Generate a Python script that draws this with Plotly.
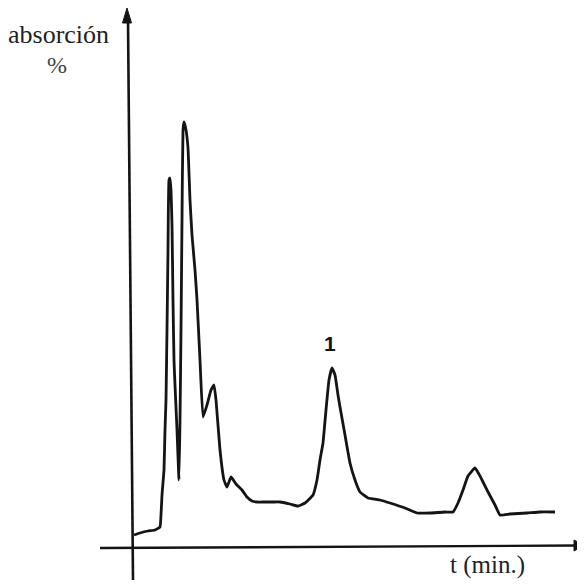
import plotly.graph_objects as go

# Chromatogram trace (arbitrary units): time t and absorbance
t = [0.4, 1.0, 1.8, 2.5, 3.0, 3.1, 3.2, 3.4, 3.5, 3.6, 3.7, 3.8, 3.9, 4.0, 4.1, 4.2,
     4.3, 4.4, 4.5, 4.7, 4.9, 5.0, 5.1, 5.2, 5.3, 5.4, 5.6, 5.8, 6.0, 6.2, 6.5, 6.7,
     7.0, 7.3, 7.7, 8.1, 8.4, 8.6, 9.0, 9.4, 9.7, 10.1, 10.6, 11.2, 11.7, 12.2, 12.7,
     13.5, 14.3, 15.0, 16.0, 16.8, 17.5, 18.3, 18.7, 19.0, 19.3, 19.6, 19.9, 20.2,
     20.5, 20.8, 21.0, 21.5, 22.0, 22.5, 23.0, 23.8, 25.0, 26.0, 27.5, 28.7, 30.0,
     31.5, 32.3, 32.8, 33.3, 33.8, 34.5, 35.0, 35.7, 36.5, 37.0, 38.0, 39.7, 41.0, 42.5]
absorcion = [12, 14, 16, 17, 20, 32, 52, 77, 117, 147, 217, 297, 367, 369, 357, 322,
             247, 187, 162, 117, 67, 127, 217, 327, 417, 425, 417, 399, 347, 312, 277, 247,
             187, 130, 142, 157, 162, 147, 97, 67, 60, 70, 63, 57, 50, 46, 45,
             45, 45, 45, 43, 41, 44, 52, 67, 87, 104, 137, 167, 179,
             172, 152, 140, 112, 84, 67, 55, 49, 47, 44, 39, 34, 34,
             35, 35, 44, 57, 71, 79, 71, 57, 42, 32, 33, 34, 35, 35]

peak_label = "1"
peak_t, peak_a = 20.0, 204

x_label = "t (min.)"
y_label_1 = "absorción"
y_label_2 = "%"

ink = "#141414"

fig = go.Figure()
fig.add_trace(go.Scatter(x=t, y=absorcion, mode="lines",
                         line=dict(color=ink, width=2.8, shape="spline", smoothing=0.35),
                         hoverinfo="skip"))

# axes drawn as lines with arrow heads
shapes = [
    dict(type="line", xref="x", yref="y", x0=-0.2, y0=528, x1=0.3, y1=-33,
         line=dict(color=ink, width=2.6)),
    dict(type="line", xref="x", yref="y", x0=-3.0, y0=-1, x1=44.8, y1=1.5,
         line=dict(color=ink, width=2.4)),
    dict(type="path", xref="x", yref="y",
         path="M -0.3 539 L -0.75 524 L 0.15 524 Z",
         fillcolor=ink, line=dict(color=ink, width=1)),
    dict(type="path", xref="x", yref="y",
         path="M 45.4 1.5 L 44.4 7 L 44.4 -4 Z",
         fillcolor=ink, line=dict(color=ink, width=1)),
]

annotations = [
    dict(x=-7.2, y=513, xref="x", yref="y", text=y_label_1, showarrow=False,
         font=dict(family="Liberation Serif", size=26, color="#222")),
    dict(x=-7.3, y=482, xref="x", yref="y", text=y_label_2, showarrow=False,
         font=dict(family="Liberation Serif", size=24, color="#444")),
    dict(x=35.7, y=-18, xref="x", yref="y", text=x_label, showarrow=False,
         font=dict(family="Liberation Serif", size=25, color="#222")),
    dict(x=peak_t, y=peak_a, xref="x", yref="y", text="<b>" + peak_label + "</b>",
         showarrow=False,
         font=dict(family="Liberation Sans", size=21, color=ink)),
]

fig.update_layout(
    width=577, height=576,
    margin=dict(l=0, r=0, t=0, b=0),
    paper_bgcolor="white", plot_bgcolor="white",
    showlegend=False,
    shapes=shapes, annotations=annotations,
    xaxis=dict(range=[-12.2, 45.5], visible=False, fixedrange=True),
    yaxis=dict(range=[-37, 539], visible=False, fixedrange=True),
)

fig.write_html("out.html", config={"displayModeBar": False})
